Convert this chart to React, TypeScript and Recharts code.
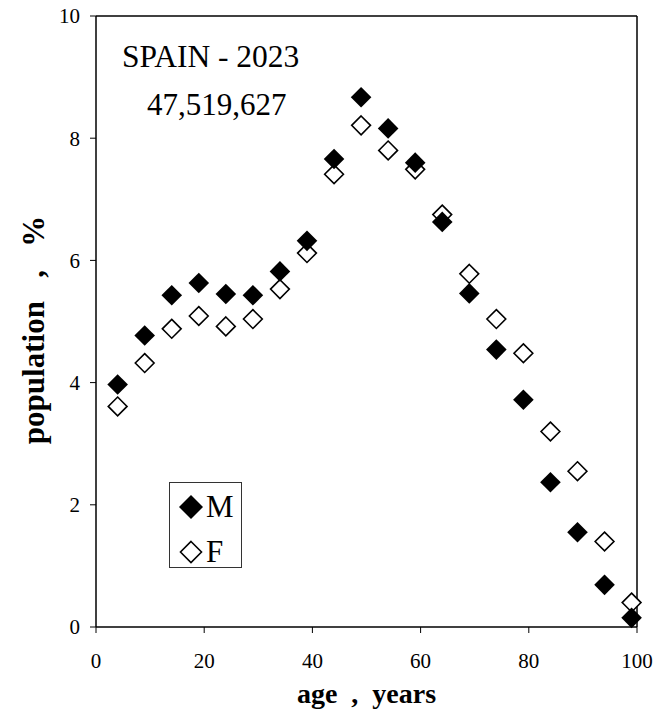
import { ScatterChart, Scatter, XAxis, YAxis, ReferenceLine, Legend } from 'recharts';

// five-year age groups, plotted at 4, 9, ... 99
const ages = [4, 9, 14, 19, 24, 29, 34, 39, 44, 49, 54, 59, 64, 69, 74, 79, 84, 89, 94, 99];
const male = [3.97, 4.77, 5.43, 5.63, 5.45, 5.43, 5.82, 6.32, 7.66, 8.67, 8.16, 7.6, 6.63, 5.46, 4.54, 3.72, 2.37, 1.55, 0.69, 0.15];
const female = [3.61, 4.32, 4.88, 5.09, 4.92, 5.04, 5.53, 6.12, 7.41, 8.21, 7.8, 7.49, 6.75, 5.78, 5.04, 4.48, 3.2, 2.55, 1.4, 0.4];
const xTicks = [0, 20, 40, 60, 80, 100];
const yTicks = [0, 2, 4, 6, 8, 10];

const maleData = ages.map((age, i) => ({ age, pct: male[i] }));
const femaleData = ages.map((age, i) => ({ age, pct: female[i] }));

const FONT = '"Liberation Serif", "Times New Roman", serif';
const NB = '\u00A0';

const diamondPath = (cx: number, cy: number, r: number) =>
  `M${cx},${cy - r}L${cx + r},${cy}L${cx},${cy + r}L${cx - r},${cy}Z`;

const FilledDiamond = (props: any) => (
  <path d={diamondPath(props.cx, props.cy, 10.3)} fill="#000" stroke="none" />
);

const OpenDiamond = (props: any) => (
  <path d={diamondPath(props.cx, props.cy, 9.4)} fill="#fff" stroke="#000" strokeWidth={1.6} />
);

// rotated y-axis title, centred a little below the plot middle
const YTitle = () => (
  <text
    x={33}
    y={330}
    transform="rotate(-90 33 330)"
    textAnchor="middle"
    dominantBaseline="central"
    fill="#000"
    fontSize={31}
    fontWeight="bold"
    fontFamily={FONT}
    style={{ whiteSpace: 'pre' }}
  >
    {`population${NB}${NB}${NB},${NB}${NB}${NB}%`}
  </text>
);

function LegendBox() {
  const row = (filled: boolean, label: string) => (
    <div style={{ display: 'flex', alignItems: 'center', height: 45 }}>
      <svg width={28} height={28} style={{ marginLeft: 7 }}>
        <path
          d={diamondPath(14, 14, filled ? 12 : 10.5)}
          fill={filled ? '#000' : '#fff'}
          stroke={filled ? 'none' : '#000'}
          strokeWidth={1.6}
        />
      </svg>
      <span style={{ fontFamily: FONT, fontSize: 31, lineHeight: '31px', marginLeft: 1 }}>{label}</span>
    </div>
  );
  return (
    <div
      style={{
        width: 73,
        height: 86,
        paddingTop: 1,
        border: '1px solid #333',
        boxSizing: 'border-box',
        background: '#fff',
      }}
    >
      {row(true, 'M')}
      {row(false, 'F')}
    </div>
  );
}

export default function App() {
  const tickStyle = { fill: '#000', fontSize: 21, fontFamily: FONT };
  return (
    <div style={{ position: 'absolute', left: 0, top: 0, width: 664, height: 716, background: '#fff' }}>
      <ScatterChart width={664} height={716} margin={{ top: 16, right: 27, left: 0, bottom: 0 }}>
        <XAxis
          type="number"
          dataKey="age"
          domain={[0, 100]}
          ticks={xTicks}
          height={89}
          tickSize={6}
          tickMargin={20}
          tick={tickStyle}
          axisLine={{ stroke: '#000', strokeWidth: 1.5 }}
          tickLine={{ stroke: '#000' }}
          label={{
            value: `age${NB}${NB},${NB}${NB}years`,
            position: 'insideBottom',
            offset: 13,
            style: { fill: '#000', fontSize: 28, fontWeight: 'bold', fontFamily: FONT },
          }}
        />
        <YAxis
          type="number"
          dataKey="pct"
          domain={[0, 10]}
          ticks={yTicks}
          width={96}
          tickSize={6}
          tickMargin={10}
          tick={tickStyle}
          axisLine={{ stroke: '#000', strokeWidth: 1.5 }}
          tickLine={{ stroke: '#000' }}
          label={{ content: YTitle }}
        />
        <ReferenceLine y={10} stroke="#000" strokeWidth={1.5} />
        <ReferenceLine x={100} stroke="#000" strokeWidth={1.5} />
        <Scatter name="F" data={femaleData} shape={OpenDiamond} isAnimationActive={false} />
        <Scatter name="M" data={maleData} shape={FilledDiamond} isAnimationActive={false} />
        <Legend
          layout="vertical"
          align="center"
          verticalAlign="middle"
          content={() => <LegendBox />}
          wrapperStyle={{ left: 169, top: 482, width: 73, height: 86 }}
        />
      </ScatterChart>
      <div
        style={{ position: 'absolute', left: 122, top: 41, fontFamily: FONT, fontSize: 31.5, lineHeight: '31px', whiteSpace: 'pre' }}
      >
        SPAIN - 2023
      </div>
      <div
        style={{ position: 'absolute', left: 147, top: 89, fontFamily: FONT, fontSize: 31, lineHeight: '31px', whiteSpace: 'pre' }}
      >
        47,519,627
      </div>
    </div>
  );
}
